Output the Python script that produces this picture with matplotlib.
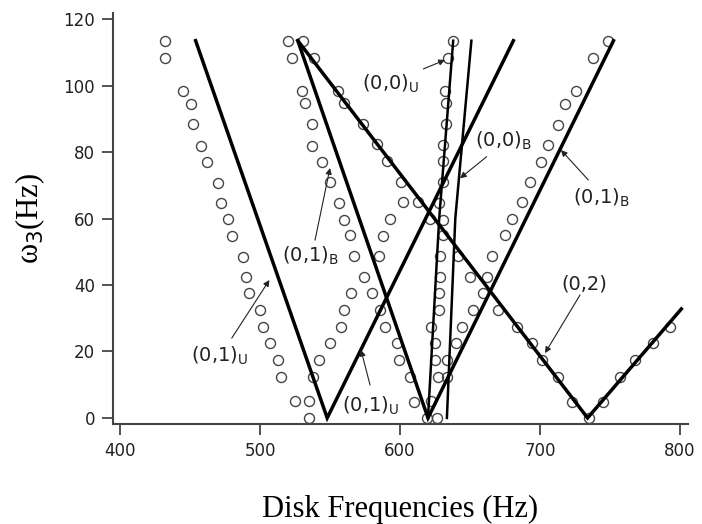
import matplotlib
matplotlib.use("Agg")
import matplotlib.pyplot as plt

plt.rcParams['mathtext.fontset'] = 'dejavusans'

# measured points (open circles), disk frequency vs omega_3
u01_left_f = [432, 432, 445, 450.5, 452, 457.6, 462.4, 469.8, 472, 477.4, 479.8, 487.6,
              490, 492.3, 500, 502.4, 507.3, 512.8, 515, 525, 535]
u01_left_w = [113.4, 108.3, 98.4, 94.6, 88.3, 81.9, 76.9, 70.8, 64.8, 59.8, 54.7, 48.5,
              42.4, 37.5, 32.5, 27.4, 22.5, 17.4, 12.4, 5, 0]

u01_right_f = [535, 537.6, 542.4, 550, 557.6, 560.2, 565, 574.5, 585.2, 587.5, 592.9, 602.4]
u01_right_w = [5, 12.4, 17.4, 22.5, 27.3, 32.5, 37.5, 42.5, 48.8, 54.8, 59.8, 64.9]

b01_left_f = [520.2, 522.6, 529.8, 532.1, 537.4, 537.4, 544.5, 550, 556.7, 560.2, 564.3,
              567.4, 579.8, 585.7, 589.3, 598.1, 599.5, 607.1, 610, 619]
b01_left_w = [113.4, 108.4, 98.4, 94.8, 88.3, 81.9, 77.1, 70.9, 64.8, 59.7, 55,
              48.7, 37.5, 32.5, 27.5, 22.6, 17.4, 12.4, 4.9, 0]

u00_f = [638.1, 634.5, 632.1, 632.9, 632.9, 630.5, 631, 630.5, 628, 630.5, 631, 628.6,
         628.6, 627.6, 627.6, 622, 625.3, 625.3, 626.8, 622, 626.6]
u00_w = [113.4, 108.4, 98.4, 94.8, 88.3, 82.1, 77.2, 70.9, 64.8, 59.7, 55, 48.7,
         42.5, 37.5, 32.5, 27.4, 22.5, 17.4, 12.4, 5, 0]

b01_right_f = [633.3, 633.3, 640, 644, 652.2, 659, 661.9, 665.5, 675, 680.2, 687.4, 692.9,
               700.5, 705.5, 713, 718.1, 725.5, 738.1, 748.3]
b01_right_w = [12.4, 17.5, 22.5, 27.4, 32.5, 37.5, 42.5, 48.7, 54.9, 59.8, 64.9, 71,
               77.1, 82.1, 88.2, 94.6, 98.4, 108.2, 113.4]

m02_f = [531, 538.8, 556, 560.2, 573.8, 583.8, 591, 600.5, 613.1, 621.4, 641.7, 650,
         670.2, 683.3, 694, 701.2, 713.1, 722.6, 735.2, 745.2, 757.1, 767.9, 780.5, 792.9]
m02_w = [113.4, 108.4, 98.4, 94.8, 88.3, 82.3, 77.3, 71.1, 64.9, 59.8, 48.7, 42.5,
         32.5, 27.3, 22.5, 17.5, 12.4, 4.9, 0, 4.9, 12.4, 17.4, 22.5, 27.3]

# predicted curves (solid lines)
line_u01_f = [454, 548, 681]
line_u01_w = [113.5, 0, 113.5]
line_b01_f = [527, 620, 752.5]
line_b01_w = [113.5, 0, 113.5]
line_02_f = [527, 734, 801]
line_02_w = [113.5, 0, 32.8]
line_u00_f = [620, 628, 638]
line_u00_w = [0, 60, 113.5]
line_b00_f = [633.5, 639.5, 651]
line_b00_w = [0, 60, 113.5]

# labels: text, text position, arrow tail, arrow head
labels = [
    (r'(0,0)$_\mathrm{U}$', (572.9, 98.9), (616.7, 105.0), (632.1, 107.7)),
    (r'(0,0)$_\mathrm{B}$', (653.6, 81.5), (661.9, 78.6), (642.9, 72.1)),
    (r'(0,1)$_\mathrm{B}$', (723.3, 64.4), (734.5, 71.6), (715.0, 80.6)),
    (r'(0,1)$_\mathrm{B}$', (515.7, 46.9), (539.3, 53.5), (550.0, 75.2)),
    (r'(0,1)$_\mathrm{U}$', (450.5, 16.9), (479.8, 24.0), (506.7, 41.5)),
    (r'(0,1)$_\mathrm{U}$', (558.3, 1.8), (578.6, 9.9), (572.1, 20.5)),
    ('(0,2)', (715.0, 38.6), (728.6, 37.0), (703.6, 19.5)),
]

fig = plt.figure(figsize=(7.02, 5.24), dpi=100)
ax = fig.add_axes([0.161, 0.191, 0.819, 0.784])

groups = [(u01_left_f, u01_left_w), (u01_right_f, u01_right_w), (b01_left_f, b01_left_w),
          (u00_f, u00_w), (b01_right_f, b01_right_w), (m02_f, m02_w)]
for gf, gw in groups:
    ax.plot(gf, gw, linestyle='none', marker='o', ms=7.2, mfc='none',
            mec='#444444', mew=1.0, zorder=2)

for lf, lw_, w in [(line_u01_f, line_u01_w, 2.5), (line_b01_f, line_b01_w, 2.5),
                   (line_02_f, line_02_w, 2.5), (line_u00_f, line_u00_w, 1.8),
                   (line_b00_f, line_b00_w, 1.8)]:
    ax.plot(lf, lw_, color='black', lw=w, solid_joinstyle='miter', zorder=3)

for txt, pos, tail, head in labels:
    ax.text(pos[0], pos[1], txt, fontsize=14, family='DejaVu Sans',
            ha='left', va='baseline', color='#222222', zorder=4)
    ax.annotate('', xy=head, xytext=tail,
                arrowprops=dict(arrowstyle='-|>', lw=0.8, color='#222222',
                                mutation_scale=9, shrinkA=0, shrinkB=0), zorder=4)

ax.set_xlim(395, 805.7)
ax.set_ylim(-1.8, 121.8)
ax.set_xticks([400, 500, 600, 700, 800])
ax.set_yticks([0, 20, 40, 60, 80, 100, 120])

for s in ['top', 'right']:
    ax.spines[s].set_visible(False)
for s in ['left', 'bottom']:
    ax.spines[s].set_color('#444444')
    ax.spines[s].set_linewidth(1.5)
ax.tick_params(direction='out', length=8, width=1.3, color='#444444',
               labelsize=12, pad=5, labelcolor='#222222')

ax.set_xlabel('Disk Frequencies (Hz)', family='Liberation Serif', fontsize=22, labelpad=25)
ax.set_ylabel(r'ω$_3$(Hz)', family='Liberation Serif', fontsize=22, labelpad=12)

fig.savefig('out.png', dpi=100)
